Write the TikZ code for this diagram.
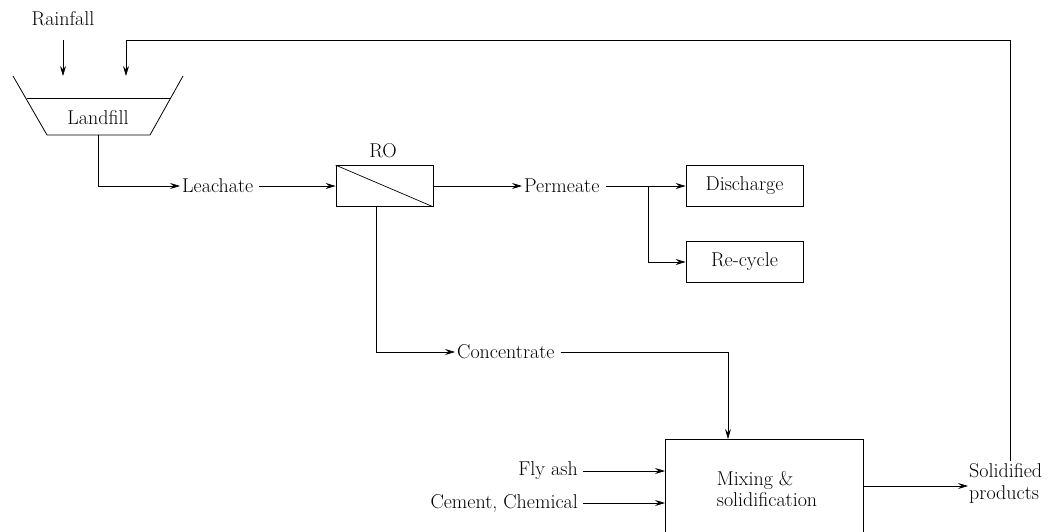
\documentclass[tikz,border=0pt]{standalone}
\usetikzlibrary{arrows.meta}
\begin{document}
\begin{tikzpicture}[x=1pt,y=-1pt,
  every node/.style={font=\fontsize{20}{22}\selectfont, inner sep=3pt},
  lbl/.style={inner sep=2pt},
  boxnode/.style={draw, line width=0.8pt, minimum width=117pt, minimum height=41pt},
  conn/.style={line width=0.7pt, -{Stealth[length=10pt,width=6pt,inset=3.5pt]}},
  plain/.style={line width=0.7pt}]
\useasboundingbox (0,0) rectangle (1049,532);
\clip (0,0) rectangle (1049,532);
% Landfill
\draw[line width=0.8pt] (13,76) -- (47,135) -- (150,135) -- (183,76);
\draw[line width=0.8pt] (27,98) -- (171,98);
\node (lf) at (98,118) {Landfill};
\coordinate (lfb) at (98,135);
\coordinate (rainin) at (63,76);
\coordinate (fbin) at (126,76);
\node (rain) at (63,19) {Rainfall};
\draw[conn] (63,40) -- (rainin);
% RO
\node[draw, line width=0.8pt, minimum width=97pt, minimum height=41pt] (ro) at (384.5,186) {};
\draw[line width=0.7pt] (ro.north west) -- (ro.south east);
\node[lbl] at (383,151) {RO};
\node[lbl, anchor=west] (leach) at (180,186) {Leachate};
\draw[conn] (lfb) |- (leach.west);
\draw[conn] (leach.east) ++(4,0) -- (ro.west);
\node[lbl, anchor=west] (perm) at (522,186) {Permeate};
\draw[conn] (ro.east) -- (perm.west);
\node[boxnode] (dis) at (744.5,186) {Discharge};
\node[boxnode] (rec) at (744.5,262) {Re-cycle};
\coordinate (br) at (648,186);
\draw[conn] (perm.east) ++(4,0) -- (dis.west);
\draw[conn] (br) |- (rec.west);
% Concentrate
\coordinate (rob) at (376,207);
\node[lbl, anchor=west] (conc) at (455,352) {Concentrate};
\draw[conn] (rob) |- (conc.west);
% Mixing
\node[draw, line width=0.8pt, minimum width=198pt, minimum height=106pt] (mix) at (764,492) {};
\node[align=left, inner sep=0pt] (mixt) at (767,489) {Mixing \&\\[-1pt]solidification};
\coordinate (mixtop) at (728,439);
\draw[conn] (conc.east) ++(4,0) -| (mixtop);
\node[lbl, anchor=east] (fly) at (580,471) {Fly ash};
\node[lbl, anchor=east] (cem) at (580,503) {Cement, Chemical};
\draw[conn] (fly.east) ++(3,0) -- (665,471);
\draw[conn] (cem.east) ++(3,0) -- (665,503);
\node[lbl, align=left, inner sep=1pt, anchor=west] (sol) at (968,483) {Solidified\\products};
\draw[conn] (863,486) -- (863,486 -| sol.west);
\draw[plain] (1010,461) -- (1010,40) -- (126,40);
\draw[conn] (126,40) -- (fbin);
\end{tikzpicture}
\end{document}
